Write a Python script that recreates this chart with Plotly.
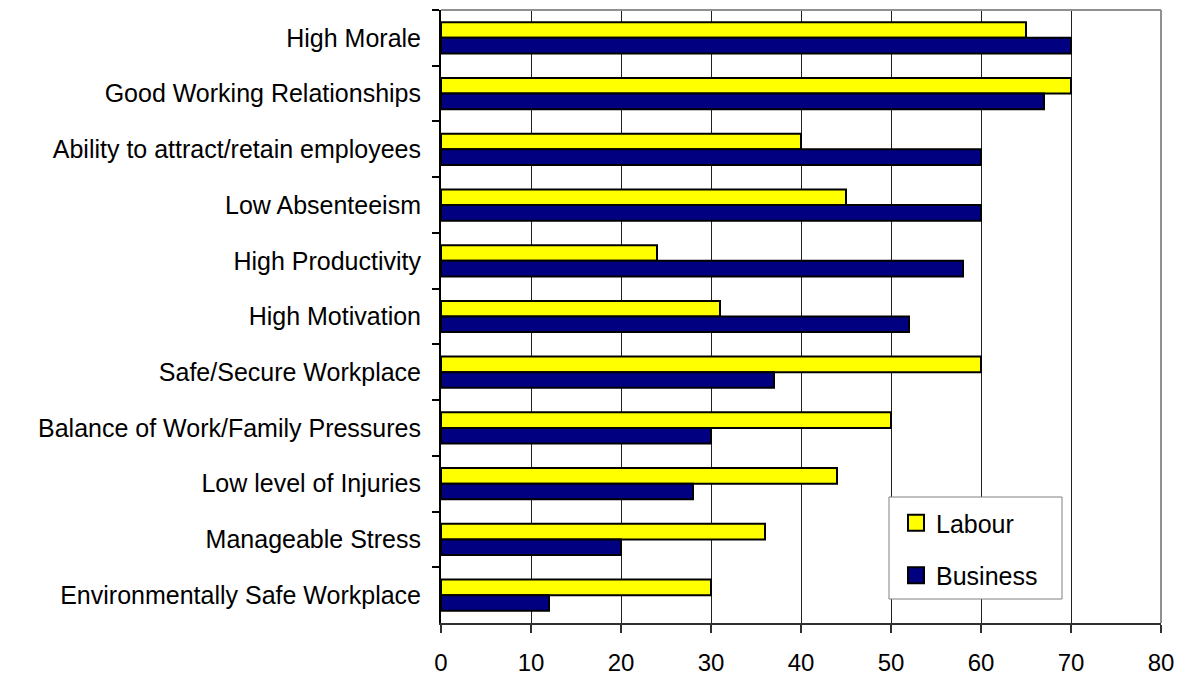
import plotly.graph_objects as go

categories = [
    "High Morale",
    "Good Working Relationships",
    "Ability to attract/retain employees",
    "Low Absenteeism",
    "High Productivity",
    "High Motivation",
    "Safe/Secure Workplace",
    "Balance of Work/Family Pressures",
    "Low level of Injuries",
    "Manageable Stress",
    "Environmentally Safe Workplace",
]
labour = [65, 70, 40, 45, 24, 31, 60, 50, 44, 36, 30]
business = [70, 67, 60, 60, 58, 52, 37, 30, 28, 20, 12]
x_ticks = [0, 10, 20, 30, 40, 50, 60, 70, 80]
series_names = ["Labour", "Business"]
series_colors = ["#FFFF00", "#000080"]

FONT = "Liberation Sans, Arial, sans-serif"

W, H = 1177, 676
ML, MR, MT, MB = 441, 16, 10, 53
PW, PH = W - ML - MR, H - MT - MB


def px_x(p):
    return (p - ML) / PW


def px_y(p):
    return (H - MB - p) / PH


fig = go.Figure()
for name, vals, col in zip(series_names, [labour, business], series_colors):
    fig.add_trace(go.Bar(
        y=categories, x=vals, name=name, orientation="h",
        marker=dict(color=col, line=dict(color="black", width=2)),
        legendgroup=name, showlegend=False,
    ))
# legend entries with larger square swatches
for name, col in zip(series_names, series_colors):
    fig.add_trace(go.Scatter(
        x=[None], y=[None], mode="markers", name=name, legendgroup=name,
        marker=dict(symbol="square", size=16, color=col, line=dict(color="black", width=2)),
        hoverinfo="skip",
    ))

fig.update_layout(
    template="none",
    width=W, height=H,
    margin=dict(l=ML, r=MR, t=MT, b=MB, pad=0),
    paper_bgcolor="white", plot_bgcolor="white",
    barmode="group", bargap=0.44, bargroupgap=0,
    font=dict(family=FONT, size=24, color="black"),
    showlegend=True,
    legend=dict(
        x=px_x(896), y=px_y(500), xanchor="left", yanchor="top",
        bgcolor="rgba(0,0,0,0)", borderwidth=0,
        font=dict(family=FONT, size=25, color="black"),
        traceorder="grouped", tracegroupgap=17, itemwidth=30, itemsizing="trace",
    ),
    xaxis=dict(
        range=[0, 80], tickvals=x_ticks, ticktext=[str(v) for v in x_ticks],
        showgrid=True, gridcolor="#202020", gridwidth=1,
        showline=True, linecolor="#303030", linewidth=2,
        ticks="outside", ticklen=8, tickcolor="#303030", tickwidth=1.5,
        ticklabelstandoff=9, automargin=False,
        zeroline=False,
        tickfont=dict(family=FONT, size=24, color="black"),
    ),
    yaxis=dict(
        autorange="reversed", type="category",
        categoryorder="array", categoryarray=categories,
        showline=True, linecolor="black", linewidth=2,
        ticks="outside", tickson="boundaries", ticklen=7, tickcolor="black", tickwidth=1.5,
        showgrid=False, ticklabelstandoff=13, automargin=False, zeroline=False,
        tickfont=dict(family=FONT, size=25, color="black"),
    ),
    shapes=[
        dict(type="line", xref="x domain", yref="y domain", x0=0, x1=1, y0=1, y1=1,
             line=dict(color="#909090", width=2), layer="above"),
        dict(type="line", xref="x domain", yref="y domain", x0=1, x1=1, y0=0, y1=1,
             line=dict(color="#909090", width=2), layer="above"),
        dict(type="rect", xref="paper", yref="paper",
             x0=px_x(889), x1=px_x(1062), y0=px_y(599), y1=px_y(497),
             fillcolor="white", line=dict(color="#808080", width=1), layer="above"),
    ],
)

fig.write_html(
    "out.html",
    config={"displayModeBar": False},
    post_script="document.body.style.margin='0';document.body.style.overflow='hidden';",
)
